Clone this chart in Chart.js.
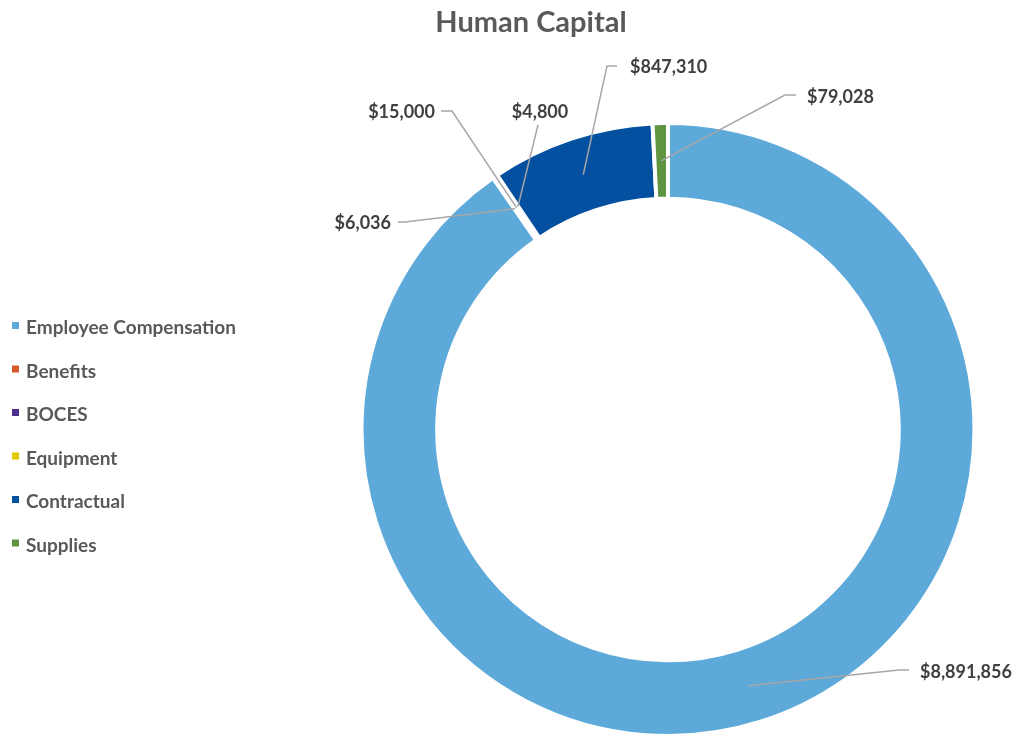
<!DOCTYPE html>
<html>
<head>
<meta charset="utf-8">
<script src="https://cdn.jsdelivr.net/npm/chart.js@4/dist/chart.umd.min.js"></script>
<style>
  html, body { margin: 0; padding: 0; background: #ffffff; }
  #wrap { width: 1017px; height: 738px; position: relative; }
</style>
</head>
<body>
<div id="wrap"><canvas id="c" width="1017" height="738"></canvas></div>
<script>
const chartTitle = 'Human Capital';
const categories = ['Employee Compensation', 'Benefits', 'BOCES', 'Equipment', 'Contractual', 'Supplies'];
const amounts = [8891856, 6036, 15000, 4800, 847310, 79028];
const sliceColors = ['#5DA9DA', '#D65A2A', '#4E2E8E', '#E2C800', '#0350A0', '#5F9441'];

// Callout layout: where each leader line bends, the end of its short shelf, and the text anchor
const callouts = [
  { elbow: [899, 670], shelf: [909, 670], text: [920, 672], align: 'left' },
  { elbow: [405, 222], shelf: [398, 222], text: [391, 223], align: 'right' },
  { elbow: [452, 111], shelf: [441, 111], text: [435, 112], align: 'right' },
  { elbow: [538, 125], shelf: [538, 125], text: [540, 112], align: 'center' },
  { elbow: [607, 66],  shelf: [617, 66],  text: [630, 67],  align: 'left' },
  { elbow: [785, 95],  shelf: [796, 95],  text: [807, 97],  align: 'left' }
];

const FONT = 'Lato, "Open Sans", sans-serif';
const money = v => '$' + v.toLocaleString('en-US');

const decorations = {
  id: 'decorations',
  afterDraw(chart) {
    const ctx = chart.ctx;
    const arcs = chart.getDatasetMeta(0).data;
    ctx.save();

    // title
    ctx.fillStyle = '#595959';
    ctx.font = 'bold 29px ' + FONT;
    ctx.textAlign = 'center';
    ctx.textBaseline = 'middle';
    ctx.fillText(chartTitle, 531, 23);

    // legend
    ctx.font = 'bold 19px ' + FONT;
    ctx.textAlign = 'left';
    categories.forEach((name, i) => {
      const y = 328 + i * 43.5;
      ctx.fillStyle = sliceColors[i];
      ctx.fillRect(12, y - 6, 7, 7);
      ctx.fillStyle = '#595959';
      ctx.fillText(name, 26, y);
    });

    // value callouts with leader lines
    ctx.strokeStyle = '#A6A6A6';
    ctx.lineWidth = 1.5;
    ctx.fillStyle = '#404040';
    ctx.font = 'bold 18px ' + FONT;
    arcs.forEach((arc, i) => {
      const p = arc.tooltipPosition();
      const c = callouts[i];
      ctx.beginPath();
      ctx.moveTo(p.x, p.y);
      ctx.lineTo(c.elbow[0], c.elbow[1]);
      ctx.lineTo(c.shelf[0], c.shelf[1]);
      ctx.stroke();
      ctx.textAlign = c.align;
      ctx.textBaseline = 'middle';
      ctx.fillText(money(amounts[i]), c.text[0], c.text[1]);
    });

    ctx.restore();
  }
};

new Chart(document.getElementById('c'), {
  type: 'doughnut',
  data: {
    labels: categories,
    datasets: [{
      data: amounts,
      backgroundColor: sliceColors,
      borderColor: '#ffffff',
      borderWidth: 4
    }]
  },
  options: {
    responsive: false,
    animation: false,
    cutout: '75.3%',
    layout: { padding: { left: 358, right: 39, top: 121, bottom: -8 } },
    plugins: {
      legend: { display: false },
      title: { display: false },
      tooltip: { enabled: false }
    }
  },
  plugins: [decorations]
});
</script>
</body>
</html>
